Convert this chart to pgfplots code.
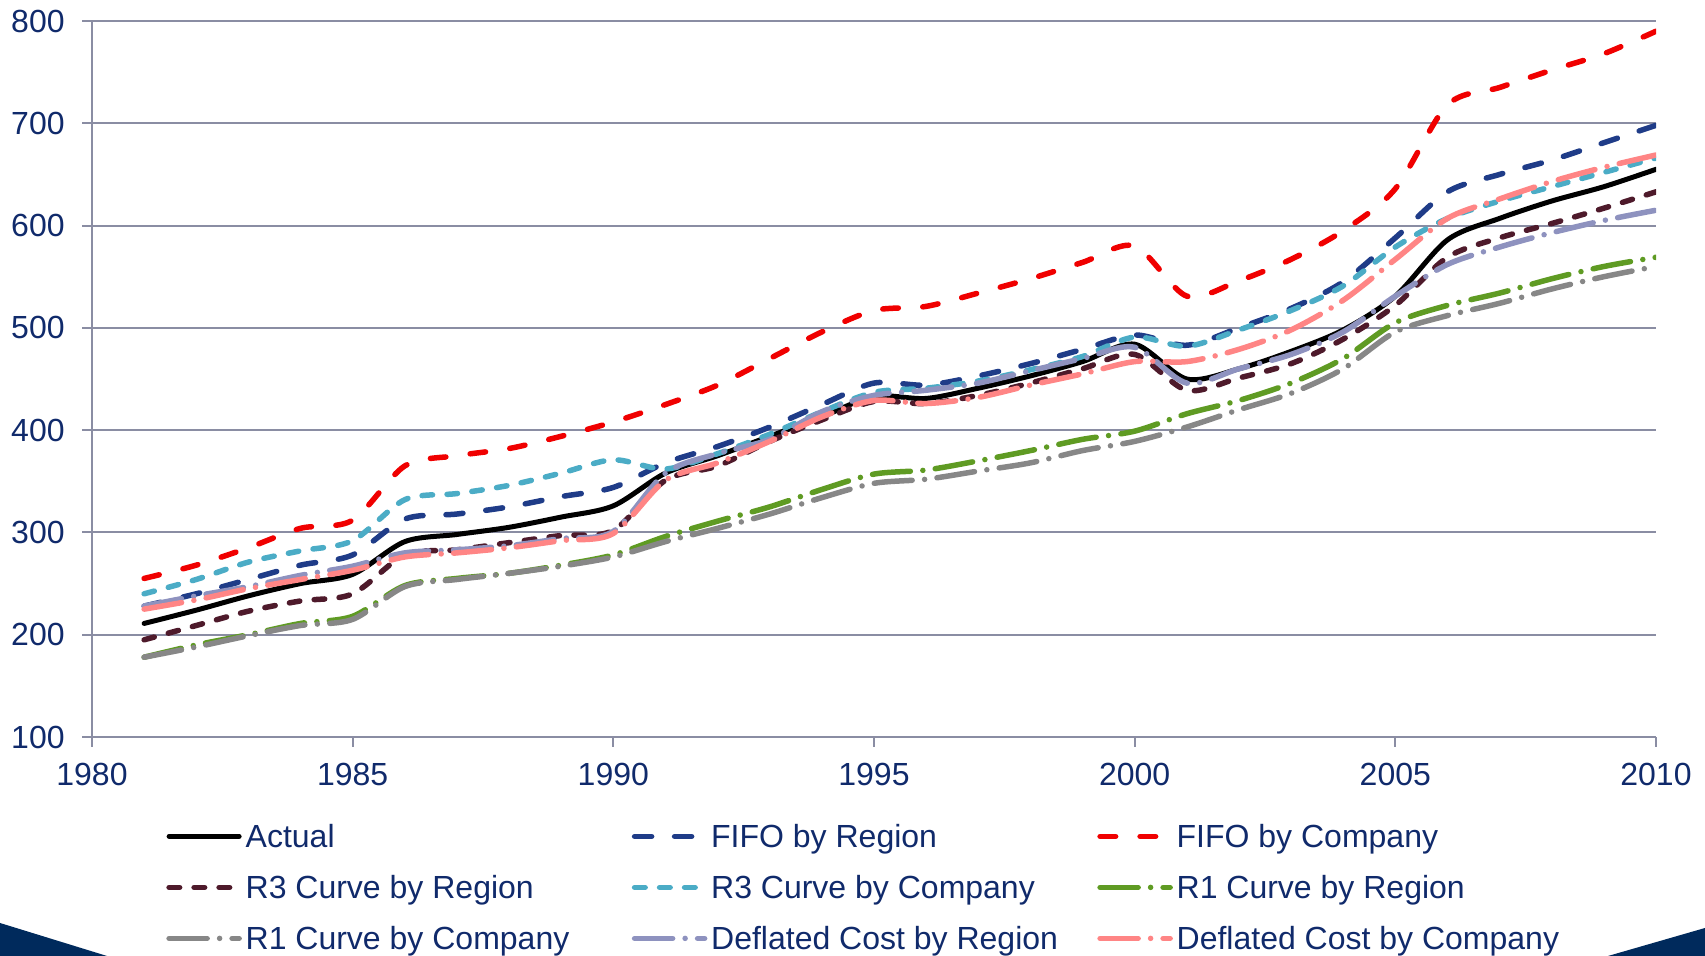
\documentclass[border=0pt]{standalone}
\usepackage{pgfplots}
\pgfplotsset{compat=1.18}
\usepackage{pgfplotstable}
\usepackage{fontspec}
\setmainfont{Liberation Sans}
\definecolor{navy}{HTML}{102A6B}
\definecolor{gridc}{HTML}{8A8DA3}
\definecolor{cblue}{HTML}{1F3C88}
\definecolor{cred}{HTML}{F00000}
\definecolor{cmaroon}{HTML}{4E1A2B}
\definecolor{ccyan}{HTML}{4BACC6}
\definecolor{cgreen}{HTML}{5F9B23}
\definecolor{cgray}{HTML}{878787}
\definecolor{clav}{HTML}{8E92BF}
\definecolor{cpink}{HTML}{FF8585}
\definecolor{decor}{HTML}{002A5C}

\pgfplotstableread{
year actual fifor fifoc r3r r3c r1r r1c dr dc
1981 211 228 255 195 240 178 178 228 225
1982 224 240 268 209 254 190 188 238 234
1983 238 254 285 223 271 200 199 247 245
1984 250 268 304 233 282 211 209 258 254
1985 259 278 312 240 292 218 215 267 263
1986 291 313 365 278 332 248 247 280 276
1987 298 318 375 283 338 255 254 283 280
1988 305 325 382 290 346 260 260 287 285
1989 315 335 394 297 358 268 267 294 292
1990 326 344 408 302 371 278 276 301 299
1991 358 368 425 351 362 296 291 358 351
1992 375 384 444 365 377 311 304 377 368
1993 394 403 470 389 396 325 318 391 389
1994 413 425 496 410 418 342 334 418 413
1995 433 446 517 428 437 357 348 434 429
1996 431 444 521 426 441 361 352 439 426
1997 441 453 534 434 448 370 360 446 432
1998 453 465 548 446 459 380 368 458 444
1999 467 479 564 460 472 391 380 470 455
2000 484 493 580 474 491 399 389 481 467
2001 450 483 531 439 482 416 403 446 467
2002 460 500 546 451 498 429 420 460 479
2003 477 519 567 465 517 446 436 474 498
2004 498 545 595 489 541 470 460 496 527
2005 531 588 636 522 579 505 496 531 567
2006 586 633 718 569 607 522 512 562 607
2007 607 650 735 588 624 534 524 579 626
2008 624 664 752 602 638 548 538 593 643
2009 638 681 768 617 652 560 550 605 657
2010 655 698 790 633 666 569 560 615 669
}\data

\newcommand{\lt}[1]{\makebox[193.1pt][l]{#1}}

\begin{document}
\begin{tikzpicture}
\useasboundingbox (0,0) rectangle (852.5pt,478pt);
\fill[decor] (0,0) -- (0,16.5pt) -- (53.5pt,0) -- cycle;
\fill[decor] (804pt,0) -- (852.5pt,14pt) -- (852.5pt,0) -- cycle;
\begin{axis}[
  at={(46pt,109.5pt)}, anchor=south west,
  scale only axis, width=782pt, height=358pt,
  xmin=1980, xmax=2010, ymin=100, ymax=800,
  xtick={1980,1985,...,2010},
  ytick={100,200,...,800},
  axis x line=bottom, axis y line=left,
  axis line style={gridc, line width=1pt, -},
  ymajorgrids, grid style={gridc, line width=1pt},
  tick align=outside,
  major tick length=5pt,
  tick style={gridc, line width=1pt},
  /pgf/number format/1000 sep={},
  /pgf/number format/assume math mode=true,
  tick label style={font=\fontsize{16}{19}\selectfont, text=navy},
  yticklabel style={inner sep=0pt, xshift=-8.5pt},
  xticklabel style={inner sep=0pt, yshift=-8pt},
  every axis plot/.append style={line cap=round, line join=round},
  legend columns=3,
  legend cell align=left,
  legend style={at={(0.0473,-0.1173)}, anchor=north west, draw=none, fill=none,
    inner sep=0pt, column sep=0pt, row sep=10.5pt,
    font=\fontsize{16}{19}\selectfont, text=navy,
    nodes={inner sep=0pt, text height=13pt, text depth=2pt},
    /tikz/every odd column/.append style={column sep=1.9pt}},
  legend image code/.code={\draw[#1] (0pt,0pt) -- (35pt,0pt);},
]
\addplot[black, line width=2.5pt, smooth] table[x=year,y=actual]{\data};
\addlegendentry{\lt{Actual}}
\addplot[cblue, line width=2.75pt, smooth, dash pattern=on 8.5pt off 11.5pt] table[x=year,y=fifor]{\data};
\addlegendentry{\lt{FIFO by Region}}
\addplot[cred, line width=2.75pt, smooth, dash pattern=on 7.75pt off 12.25pt] table[x=year,y=fifoc]{\data};
\addlegendentry{\lt{FIFO by Company}}
\addplot[cmaroon, line width=2.75pt, smooth, dash pattern=on 5.25pt off 7.25pt] table[x=year,y=r3r]{\data};
\addlegendentry{\lt{R3 Curve by Region}}
\addplot[ccyan, line width=2.75pt, smooth, dash pattern=on 5.25pt off 7.25pt] table[x=year,y=r3c]{\data};
\addlegendentry{\lt{R3 Curve by Company}}
\addplot[cgreen, line width=2.75pt, smooth, dash pattern=on 19pt off 6.25pt on 0pt off 6.25pt] table[x=year,y=r1r]{\data};
\addlegendentry{\lt{R1 Curve by Region}}
\addplot[cgray, line width=2.75pt, smooth, dash pattern=on 19pt off 6.25pt on 0pt off 6.25pt] table[x=year,y=r1c]{\data};
\addlegendentry{\lt{R1 Curve by Company}}
\addplot[clav, line width=2.75pt, smooth, dash pattern=on 19pt off 6.25pt on 0pt off 6.25pt] table[x=year,y=dr]{\data};
\addlegendentry{\lt{Deflated Cost by Region}}
\addplot[cpink, line width=2.75pt, smooth, dash pattern=on 19pt off 6.25pt on 0pt off 6.25pt] table[x=year,y=dc]{\data};
\addlegendentry{\lt{Deflated Cost by Company}}
\end{axis}
\end{tikzpicture}
\end{document}
